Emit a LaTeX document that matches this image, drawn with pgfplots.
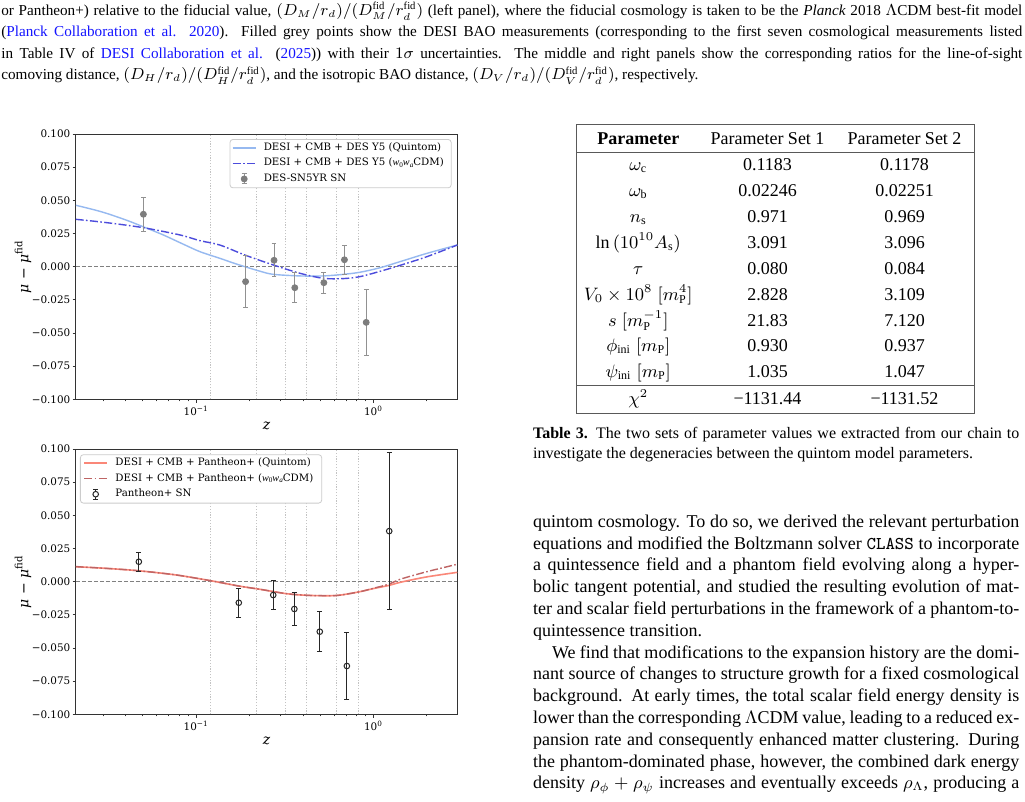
\documentclass[border=0pt]{standalone}
\usepackage{fontspec}
\setmainfont{Liberation Serif}
\newfontfamily\plotfont{DejaVu Serif}
\usepackage{pgfplots}
\pgfplotsset{compat=1.18}
\usepackage{pgfplotstable}

\definecolor{qblue}{RGB}{150,185,240}
\definecolor{wblue}{RGB}{76,76,220}
\definecolor{qsalmon}{RGB}{250,135,120}
\definecolor{wred}{RGB}{190,100,100}
\definecolor{ptgray}{RGB}{125,125,125}
\definecolor{ebgray}{RGB}{145,145,145}
\definecolor{vgrid}{RGB}{195,195,195}
\definecolor{linkblue}{RGB}{20,20,255}

% ---------- data ----------
\pgfplotstableread{
z v
0.0209 0.0463
0.026 0.0432
0.0312 0.0402
0.0405 0.0350
0.0502 0.0301
0.065 0.0240
0.081 0.0181
0.105 0.0113
0.136 0.0063
0.16 0.0030
0.188 0.0000
0.23 -0.0035
0.272 -0.0058
0.385 -0.0070
0.522 -0.0070
0.677 -0.0058
0.841 -0.0042
1.091 -0.0008
1.415 0.0038
2.0 0.0100
2.97 0.0163
}\topQuintom

\pgfplotstableread{
z v
0.0209 0.0357
0.0312 0.0332
0.0502 0.0294
0.081 0.0239
0.105 0.0196
0.136 0.0163
0.188 0.0088
0.272 0.0013
0.385 -0.0050
0.522 -0.0088
0.677 -0.0090
0.841 -0.0075
1.091 -0.0035
1.415 0.0010
2.0 0.0075
2.97 0.0163
}\topW

\pgfplotstableread{
z v e
0.0504 0.0395 0.0130
0.190 -0.0113 0.0195
0.275 0.0048 0.0125
0.360 -0.0159 0.0115
0.525 -0.0121 0.0080
0.686 0.0052 0.0110
0.910 -0.0420 0.0247
}\topSN

\pgfplotstableread{
z v
0.0209 0.0113
0.0312 0.0100
0.0475 0.0082
0.0775 0.0050
0.122 0.0006
0.174 -0.0033
0.23 -0.0058
0.324 -0.0091
0.422 -0.0103
0.525 -0.0106
0.635 -0.0103
0.823 -0.0078
1.0 -0.0052
1.227 -0.0028
1.415 -0.0005
2.0 0.0036
2.97 0.0070
}\botQuintom

\pgfplotstableread{
z v
0.0209 0.0113
0.0312 0.0100
0.0475 0.0082
0.0775 0.0050
0.122 0.0006
0.174 -0.0033
0.23 -0.0058
0.324 -0.0091
0.422 -0.0103
0.525 -0.0106
0.635 -0.0103
0.823 -0.0078
1.0 -0.0050
1.227 -0.0018
1.415 0.0018
2.0 0.0075
2.97 0.0131
}\botW

\pgfplotstableread{
z v e
0.0475 0.0150 0.0073
0.174 -0.0159 0.0110
0.272 -0.0101 0.0110
0.358 -0.0206 0.0125
0.498 -0.0377 0.0152
0.708 -0.0636 0.0255
1.227 0.0381 0.0592
}\botSN

\newcommand\capline[2]{\node[anchor=base west, inner sep=0pt] at (0.5pt,#1) {\fontsize{7.6}{9.5}\selectfont\hbox to 510.5pt{#2}};}
\newcommand\trow[4]{%
  \node[anchor=base, inner sep=0pt] at (319.15pt,#1) {#2};
  \node[anchor=base, inner sep=0pt] at (383.75pt,#1) {#3};
  \node[anchor=base, inner sep=0pt] at (452.25pt,#1) {#4};}
\newcommand\tickfont{\plotfont\fontsize{5.2}{6}\selectfont}
\newcommand\legfont{\plotfont\fontsize{5.1}{6}\selectfont}
\newcommand\labfont{\plotfont\fontsize{7}{8}\selectfont}
\newcommand\wowa{{\rmfamily\itshape w\raisebox{-0.6pt}{\fontsize{3.6}{4}\selectfont\upshape 0}w\raisebox{-0.6pt}{\fontsize{3.6}{4}\selectfont a}}}

\begin{document}
\begin{tikzpicture}
\path[use as bounding box, fill=white] (0pt,0pt) rectangle (512.5pt,-401pt);

% ---------- caption of the previous figure ----------
\capline{-7.75pt}{or Pantheon+) relative to the fiducial value, $(D_M/r_d)/(D_M^{\mathrm{fid}}/r_d^{\mathrm{fid}})$ (left panel), where the fiducial cosmology is taken to be the \textit{Planck} 2018 $\Lambda$CDM best-fit model}
\capline{-18.5pt}{({\color{linkblue}Planck Collaboration et al. 2020}). Filled grey points show the DESI BAO measurements (corresponding to the first seven cosmological measurements listed}
\capline{-29.25pt}{in Table IV of {\color{linkblue}DESI Collaboration et al.} ({\color{linkblue}2025})) with their $1\sigma$ uncertainties. The middle and right panels show the corresponding ratios for the line-of-sight}
\capline{-40pt}{comoving distance, $(D_H/r_d)/(D_H^{\mathrm{fid}}/r_d^{\mathrm{fid}})$, and the isotropic BAO distance, $(D_V/r_d)/(D_V^{\mathrm{fid}}/r_d^{\mathrm{fid}})$, respectively.\hfil}

% ---------- table ----------
\begin{scope}[font=\fontsize{9}{11}\selectfont]
\draw[black!65, line width=0.5pt] (288.35pt,-62.5pt) rectangle (487.15pt,-206.65pt);
\draw[black!65, line width=0.5pt] (288.35pt,-76.15pt) -- (487.15pt,-76.15pt);
\draw[black!65, line width=0.5pt] (288.35pt,-193pt) -- (487.15pt,-193pt);
\trow{-72.5pt}{\textbf{Parameter}}{Parameter Set 1}{Parameter Set 2}
\trow{-85.35pt}{$\omega_{\mathrm{c}}$}{0.1183}{0.1178}
\trow{-98.3pt}{$\omega_{\mathrm{b}}$}{0.02246}{0.02251}
\trow{-111.25pt}{$n_{\mathrm{s}}$}{0.971}{0.969}
\trow{-124.2pt}{$\ln{(10^{10}A_{\mathrm{s}})}$}{3.091}{3.096}
\trow{-137.15pt}{$\tau$}{0.080}{0.084}
\trow{-150.1pt}{$V_0\times10^8\;[m_{\mathrm{P}}^4]$}{2.828}{3.109}
\trow{-163.05pt}{$s\;[m_{\mathrm{P}}^{-1}]$}{21.83}{7.120}
\trow{-176pt}{$\phi_{\mathrm{ini}}\;[m_{\mathrm{P}}]$}{0.930}{0.937}
\trow{-188.95pt}{$\psi_{\mathrm{ini}}\;[m_{\mathrm{P}}]$}{1.035}{1.047}
\trow{-202.5pt}{$\chi^2$}{−1131.44}{−1131.52}
\end{scope}

% ---------- table caption ----------
\node[anchor=base west, inner sep=0pt] at (266.35pt,-219.5pt) {\fontsize{8}{10}\selectfont\hbox to 243.15pt{\textbf{Table 3.} The two sets of parameter values we extracted from our chain to}};
\node[anchor=base west, inner sep=0pt] at (266.35pt,-229.5pt) {\fontsize{8}{10}\selectfont\hbox to 243.15pt{investigate the degeneracies between the quintom model parameters.\hfil}};

% ---------- body text ----------
\node[anchor=base west, inner sep=0pt] at (266.35pt,-263.65pt) {\begin{minipage}[t]{243.15pt}\fontsize{9}{10.9}\selectfont\baselineskip=10.9pt
\hbox to\linewidth{quintom cosmology. To do so, we derived the relevant perturbation}
\hbox to\linewidth{equations and modified the Boltzmann solver \texttt{CLASS} to incorporate}
\hbox to\linewidth{a quintessence field and a phantom field evolving along a hyper-}
\hbox to\linewidth{bolic tangent potential, and studied the resulting evolution of mat-}
\hbox to\linewidth{ter and scalar field perturbations in the framework of a phantom-to-}
\hbox to\linewidth{quintessence transition.\hfil}
\hbox to\linewidth{\hskip 9.5pt We find that modifications to the expansion history are the domi-}
\hbox to\linewidth{nant source of changes to structure growth for a fixed cosmological}
\hbox to\linewidth{background. At early times, the total scalar field energy density is}
\hbox to\linewidth{lower than the corresponding $\Lambda$CDM value, leading to a reduced ex-}
\hbox to\linewidth{pansion rate and consequently enhanced matter clustering. During}
\hbox to\linewidth{the phantom-dominated phase, however, the combined dark energy}
\hbox to\linewidth{density $\rho_\phi + \rho_\psi$ increases and eventually exceeds $\rho_\Lambda$, producing a}
\end{minipage}};

% ---------- top panel ----------
\begin{axis}[at={(38pt,-199.65pt)}, anchor=south west,
    scale only axis, width=190.65pt, height=132.65pt,
    xmode=log, xmin=0.021, xmax=2.97, ymin=-0.1, ymax=0.1,
    xtick={0.1,1}, xticklabels={10\textsuperscript{−1},10\textsuperscript{0}},
    minor xtick={0.03,0.04,0.05,0.06,0.07,0.08,0.09,0.2,0.3,0.4,0.5,0.6,0.7,0.8,0.9,2},
    ytick={-0.1,-0.075,-0.05,-0.025,0,0.025,0.05,0.075,0.1},
    yticklabels={−0.100,−0.075,−0.050,−0.025,0.000,0.025,0.050,0.075,0.100},
    tick align=outside, tick pos=left,
    major tick length=1.75pt, minor tick length=1pt,
    tick style={black!80, line width=0.4pt},
    axis line style={black!80, line width=0.5pt},
    ticklabel style={font=\tickfont},
    yticklabel style={inner xsep=0.9pt},
    xticklabel style={inner ysep=1.2pt},
    xlabel={\itshape z},
    ylabel={{\itshape μ} − {\itshape μ}\textsuperscript{fid}},
    xlabel style={at={(0.5,-0.1006)}, anchor=center, font=\labfont},
    ylabel style={at={(-0.139,0.5)}, anchor=center, font=\labfont},
    legend cell align=left,
    legend style={at={(0.985,0.981)}, anchor=north east,
      draw=black!20, fill=white, rounded corners=1.5pt, font=\legfont,
      inner xsep=1pt, inner ysep=1.7pt, row sep=2.55pt,
      nodes={inner ysep=0pt, inner xsep=2.7pt, text height=3.9pt, text depth=1.2pt}},
  ]
\addplot[vgrid, line width=0.5pt, dash pattern=on 0.6pt off 0.8pt, forget plot] coordinates {(0.12,-0.1) (0.12,0.1)};
\addplot[vgrid, line width=0.5pt, dash pattern=on 0.6pt off 0.8pt, forget plot] coordinates {(0.22,-0.1) (0.22,0.1)};
\addplot[vgrid, line width=0.5pt, dash pattern=on 0.6pt off 0.8pt, forget plot] coordinates {(0.32,-0.1) (0.32,0.1)};
\addplot[vgrid, line width=0.5pt, dash pattern=on 0.6pt off 0.8pt, forget plot] coordinates {(0.42,-0.1) (0.42,0.1)};
\addplot[vgrid, line width=0.5pt, dash pattern=on 0.6pt off 0.8pt, forget plot] coordinates {(0.62,-0.1) (0.62,0.1)};
\addplot[vgrid, line width=0.5pt, dash pattern=on 0.6pt off 0.8pt, forget plot] coordinates {(0.82,-0.1) (0.82,0.1)};
\addplot[black!50, line width=0.55pt, dash pattern=on 2pt off 1pt, forget plot] coordinates {(0.021,0) (2.97,0)};
\addplot[qblue, line width=0.7pt, smooth, tension=0.5,
  legend image code/.code={\draw[qblue, line width=0.7pt] (0pt,0pt) -- (11.5pt,0pt); \path (12.5pt,0pt);}]
  table[x=z,y=v] {\topQuintom};
\addlegendentry{DESI + CMB + DES Y5 (Quintom)}
\addplot[wblue, line width=0.7pt, smooth, tension=0.5, dash pattern=on 4pt off 1.2pt on 0.8pt off 1.2pt,
  legend image code/.code={\draw[wblue, line width=0.7pt, dash pattern=on 4pt off 1.2pt on 0.8pt off 1.2pt] (0pt,0pt) -- (11.5pt,0pt); \path (12.5pt,0pt);}]
  table[x=z,y=v] {\topW};
\addlegendentry{DESI + CMB + DES Y5 (\wowa CDM)}
\addplot[only marks, mark=*, mark size=1.5pt, color=ptgray,
  legend image code/.code={
    \draw[ebgray, line width=0.5pt] (5.75pt,-2.5pt) -- (5.75pt,2.5pt);
    \draw[ebgray, line width=0.5pt] (4.6pt,2.5pt) -- (6.9pt,2.5pt);
    \draw[ebgray, line width=0.5pt] (4.6pt,-2.5pt) -- (6.9pt,-2.5pt);
    \fill[ptgray] (5.75pt,0pt) circle (1.5pt);
    \path (0pt,0pt) (12.5pt,0pt);},
  error bars/.cd, y dir=both, y explicit,
  error bar style={line width=0.5pt, ebgray},
  error mark options={rotate=90, mark size=1.2pt, line width=0.5pt, ebgray}]
  table[x=z, y=v, y error=e] {\topSN};
\addlegendentry{DES-SN5YR SN}
\end{axis}

% ---------- bottom panel ----------
\begin{axis}[at={(38pt,-357.15pt)}, anchor=south west,
    scale only axis, width=190.65pt, height=132.65pt,
    xmode=log, xmin=0.021, xmax=2.97, ymin=-0.1, ymax=0.1,
    xtick={0.1,1}, xticklabels={10\textsuperscript{−1},10\textsuperscript{0}},
    minor xtick={0.03,0.04,0.05,0.06,0.07,0.08,0.09,0.2,0.3,0.4,0.5,0.6,0.7,0.8,0.9,2},
    ytick={-0.1,-0.075,-0.05,-0.025,0,0.025,0.05,0.075,0.1},
    yticklabels={−0.100,−0.075,−0.050,−0.025,0.000,0.025,0.050,0.075,0.100},
    tick align=outside, tick pos=left,
    major tick length=1.75pt, minor tick length=1pt,
    tick style={black!80, line width=0.4pt},
    axis line style={black!80, line width=0.5pt},
    ticklabel style={font=\tickfont},
    yticklabel style={inner xsep=0.9pt},
    xticklabel style={inner ysep=1.2pt},
    xlabel={\itshape z},
    ylabel={{\itshape μ} − {\itshape μ}\textsuperscript{fid}},
    xlabel style={at={(0.5,-0.1006)}, anchor=center, font=\labfont},
    ylabel style={at={(-0.139,0.5)}, anchor=center, font=\labfont},
    legend cell align=left,
    legend style={at={(0.0105,0.98)}, anchor=north west,
      draw=black!20, fill=white, rounded corners=1.5pt, font=\legfont,
      inner xsep=1.5pt, inner ysep=1.7pt, row sep=2.55pt,
      nodes={inner ysep=0pt, inner xsep=2.7pt, text height=3.9pt, text depth=1.2pt}},
  ]
\addplot[vgrid, line width=0.5pt, dash pattern=on 0.6pt off 0.8pt, forget plot] coordinates {(0.12,-0.1) (0.12,0.1)};
\addplot[vgrid, line width=0.5pt, dash pattern=on 0.6pt off 0.8pt, forget plot] coordinates {(0.22,-0.1) (0.22,0.1)};
\addplot[vgrid, line width=0.5pt, dash pattern=on 0.6pt off 0.8pt, forget plot] coordinates {(0.32,-0.1) (0.32,0.1)};
\addplot[vgrid, line width=0.5pt, dash pattern=on 0.6pt off 0.8pt, forget plot] coordinates {(0.42,-0.1) (0.42,0.1)};
\addplot[vgrid, line width=0.5pt, dash pattern=on 0.6pt off 0.8pt, forget plot] coordinates {(0.62,-0.1) (0.62,0.1)};
\addplot[vgrid, line width=0.5pt, dash pattern=on 0.6pt off 0.8pt, forget plot] coordinates {(0.82,-0.1) (0.82,0.1)};
\addplot[black!50, line width=0.55pt, dash pattern=on 2pt off 1pt, forget plot] coordinates {(0.021,0) (2.97,0)};
\addplot[qsalmon, line width=0.8pt, smooth, tension=0.5,
  legend image code/.code={\draw[qsalmon, line width=0.8pt] (0pt,0pt) -- (11.5pt,0pt); \path (12.5pt,0pt);}]
  table[x=z,y=v] {\botQuintom};
\addlegendentry{DESI + CMB + Pantheon+ (Quintom)}
\addplot[wred, line width=0.7pt, smooth, tension=0.5, dash pattern=on 4pt off 1.2pt on 0.8pt off 1.2pt,
  legend image code/.code={\draw[wred, line width=0.7pt, dash pattern=on 4pt off 1.2pt on 0.8pt off 1.2pt] (0pt,0pt) -- (11.5pt,0pt); \path (12.5pt,0pt);}]
  table[x=z,y=v] {\botW};
\addlegendentry{DESI + CMB + Pantheon+ (\wowa CDM)}
\addplot[only marks, mark=o, mark size=1.4pt, color=black!85, mark options={fill=white, line width=0.5pt},
  legend image code/.code={
    \draw[black!85, line width=0.5pt] (5.75pt,-2.5pt) -- (5.75pt,2.5pt);
    \draw[black!85, line width=0.5pt] (4.6pt,2.5pt) -- (6.9pt,2.5pt);
    \draw[black!85, line width=0.5pt] (4.6pt,-2.5pt) -- (6.9pt,-2.5pt);
    \filldraw[black!85, fill=white, line width=0.5pt] (5.75pt,0pt) circle (1.4pt);
    \path (0pt,0pt) (12.5pt,0pt);},
  error bars/.cd, y dir=both, y explicit,
  error bar style={line width=0.5pt, black!85},
  error mark options={rotate=90, mark size=1.2pt, line width=0.5pt, black!85}]
  table[x=z, y=v, y error=e] {\botSN};
\addlegendentry{Pantheon+ SN}
\end{axis}
\end{tikzpicture}
\end{document}
